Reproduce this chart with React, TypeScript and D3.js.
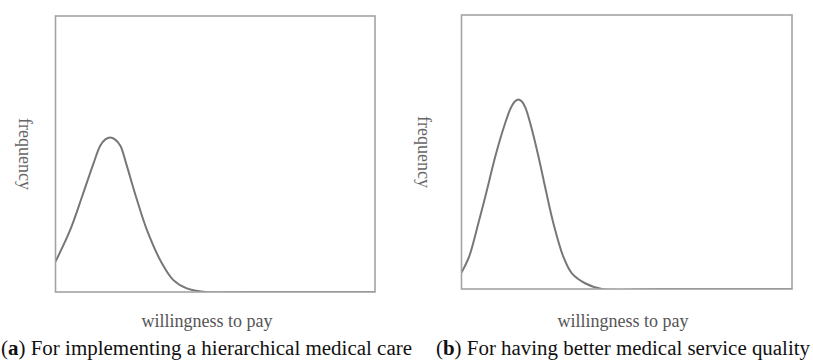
import React from 'react';
import * as d3 from 'd3';

// willingness-to-pay curves (box = 0..100 on both axes)
const curveAX = [0, 4.6, 8.3, 11.9, 14.0, 15.6, 17.1, 18.6, 20.3, 22.1, 25.2, 28.6, 33.3, 36.9, 41.1, 46.8, 60, 100];
const curveAY = [11.0, 22.5, 34.5, 46.6, 53.0, 55.3, 56.0, 55.3, 53.0, 46.6, 34.5, 22.5, 10.4, 4.3, 1.3, 0, 0, 0];

const curveBX = [0, 2.3, 5.1, 7.7, 10.2, 13.2, 15.0, 16.2, 17.2, 18.2, 19.3, 20.8, 23.3, 25.5, 27.8, 30.8, 33.4, 37.4, 42.5, 60, 100];
const curveBY = [6.0, 11.8, 24.0, 36.1, 48.3, 60.5, 66.3, 68.5, 69.2, 68.5, 66.3, 60.5, 48.3, 36.1, 24.0, 11.8, 5.7, 2.1, 0, 0, 0];

const xLabel = 'willingness to pay';
const yLabel = 'frequency';
const captionA = ['a', ' For implementing a hierarchical medical care'];
const captionB = ['b', ' For having better medical service quality'];

type Panel = {
  xs: number[];
  ys: number[];
  box: [number, number, number, number]; // left, top, right, bottom
  yLabelX: number;
  xLabelX: number;
  caption: string[];
  capX: number;
  capLen: number;
};

const panels: Panel[] = [
  { xs: curveAX, ys: curveAY, box: [55.5, 16, 375, 292], yLabelX: 19, xLabelX: 207, caption: captionA, capX: 1, capLen: 411 },
  { xs: curveBX, ys: curveBY, box: [461.5, 15, 792, 289], yLabelX: 418, xLabelX: 623, caption: captionB, capX: 436, capLen: 374 },
];

function ChartPanel({ p, id }: { p: Panel; id: number }) {
  const [l, t, r, b] = p.box;
  const x = d3.scaleLinear().domain([0, 100]).range([l, r]);
  const y = d3.scaleLinear().domain([0, 100]).range([b, t]);
  const line = d3.line<number>()
    .x((_, i) => x(p.xs[i]))
    .y(d => y(d))
    .curve(d3.curveCatmullRom.alpha(0.5));
  const midY = (t + b) / 2;

  return (
    <g>
      <defs>
        <clipPath id={`clip${id}`}>
          <rect x={l} y={t} width={r - l} height={b - t} />
        </clipPath>
      </defs>
      <path d={line(p.ys) ?? ''} fill="none" stroke="#777" strokeWidth={2} clipPath={`url(#clip${id})`} />
      <rect x={l} y={t} width={r - l} height={b - t} fill="none" stroke="#a3a3a3" strokeWidth={1.6} />
      <text
        transform={`translate(${p.yLabelX},${midY}) rotate(90)`}
        textAnchor="middle"
        fontFamily="Liberation Serif"
        fontSize={18}
        fill="#666"
      >
        {yLabel}
      </text>
      <text x={p.xLabelX} y={327} textAnchor="middle" fontFamily="Liberation Serif" fontSize={18} fill="#555">
        {xLabel}
      </text>
      <text
        x={p.capX}
        y={355}
        fontFamily="Liberation Serif"
        fontSize={20}
        fill="#111"
        textLength={p.capLen}
        lengthAdjust="spacingAndGlyphs"
      >
        (<tspan fontWeight="bold">{p.caption[0]}</tspan>){p.caption[1]}
      </text>
    </g>
  );
}

export default function App() {
  return (
    <svg
      width={813}
      height={360}
      style={{ position: 'absolute', left: 0, top: 0, background: '#fff' }}
    >
      {panels.map((p, i) => (
        <ChartPanel key={i} p={p} id={i} />
      ))}
    </svg>
  );
}
